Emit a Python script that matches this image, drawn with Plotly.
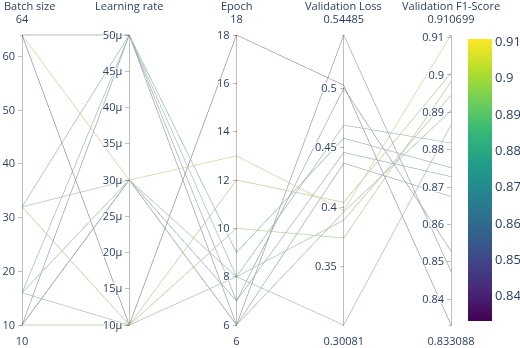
import plotly.graph_objects as go
import plotly.colors as pc

batch_size = [64, 64, 64, 32, 32, 32, 16, 16, 16, 10, 10, 10, 10]
learning_rate = [10e-6, 50e-6, 30e-6, 10e-6, 50e-6, 30e-6, 50e-6, 30e-6, 10e-6, 50e-6, 30e-6, 10e-6, 30e-6]
epoch = [18, 6, 13, 12, 8, 8, 9, 6, 8, 7, 7, 10, 6]
val_loss = [0.5026, 0.54485, 0.397, 0.404, 0.469, 0.389, 0.458, 0.396, 0.30081, 0.500, 0.446, 0.374, 0.437]
val_f1 = [0.833088, 0.8474, 0.910699, 0.9005, 0.8818, 0.8946, 0.8752, 0.8905, 0.8866, 0.8529, 0.8728, 0.8982, 0.8675]
lr_ticks = [10e-6, 15e-6, 20e-6, 25e-6, 30e-6, 35e-6, 40e-6, 45e-6, 50e-6]
titles = ["Batch size", "Learning rate", "Epoch", "Validation Loss", "Validation F1-Score"]

# faded line colours (lines in the reference are drawn translucent)
vir = pc.sequential.Viridis
n = len(vir)
a = 0.38
bg = (216, 216, 216)
faded = []
for i, h in enumerate(vir):
    r, g, b = pc.hex_to_rgb(h)
    faded.append([i / (n - 1), "rgb(%d,%d,%d)" % (a * r + (1 - a) * bg[0],
                                                  a * g + (1 - a) * bg[1],
                                                  a * b + (1 - a) * bg[2])])

fig = go.Figure()
fig.add_trace(go.Parcoords(
    line=dict(color=val_f1, colorscale=faded, showscale=False),
    dimensions=[
        dict(label="", values=batch_size),
        dict(label="", values=learning_rate, tickformat="~s", tickvals=lr_ticks),
        dict(label="", values=epoch),
        dict(label="", values=val_loss),
        dict(label="", values=val_f1),
    ],
    labelfont=dict(size=11), tickfont=dict(size=11), rangefont=dict(size=11),
))
fig.add_trace(go.Scatter(
    x=[None], y=[None], mode="markers", showlegend=False, hoverinfo="skip",
    marker=dict(color=val_f1, colorscale="Viridis", cmin=min(val_f1), cmax=max(val_f1),
                showscale=True,
                colorbar=dict(x=1.0396, xanchor="left", thickness=24, len=0.959,
                              y=0.980, yanchor="top", ypad=0, xpad=0,
                              tickfont=dict(size=13), outlinewidth=0)),
))
# dimension titles
for i, t in enumerate(titles):
    if i == 0:
        fig.add_annotation(text=t, xref="paper", yref="paper", x=-0.047, xanchor="left",
                           y=1.0, yshift=28, yanchor="middle", showarrow=False,
                           font=dict(size=11, color="#2a3f5f"))
    else:
        fig.add_annotation(text=t, xref="paper", yref="paper", x=i / (len(titles) - 1),
                           xanchor="center", y=1.0, yshift=28, yanchor="middle",
                           showarrow=False, font=dict(size=11, color="#2a3f5f"))
fig.update_layout(width=520, height=348, margin=dict(l=22, r=69, t=33, b=21, autoexpand=False),
                  template="plotly_white",
                  xaxis=dict(visible=False), yaxis=dict(visible=False))
fig.write_html("out.html")
